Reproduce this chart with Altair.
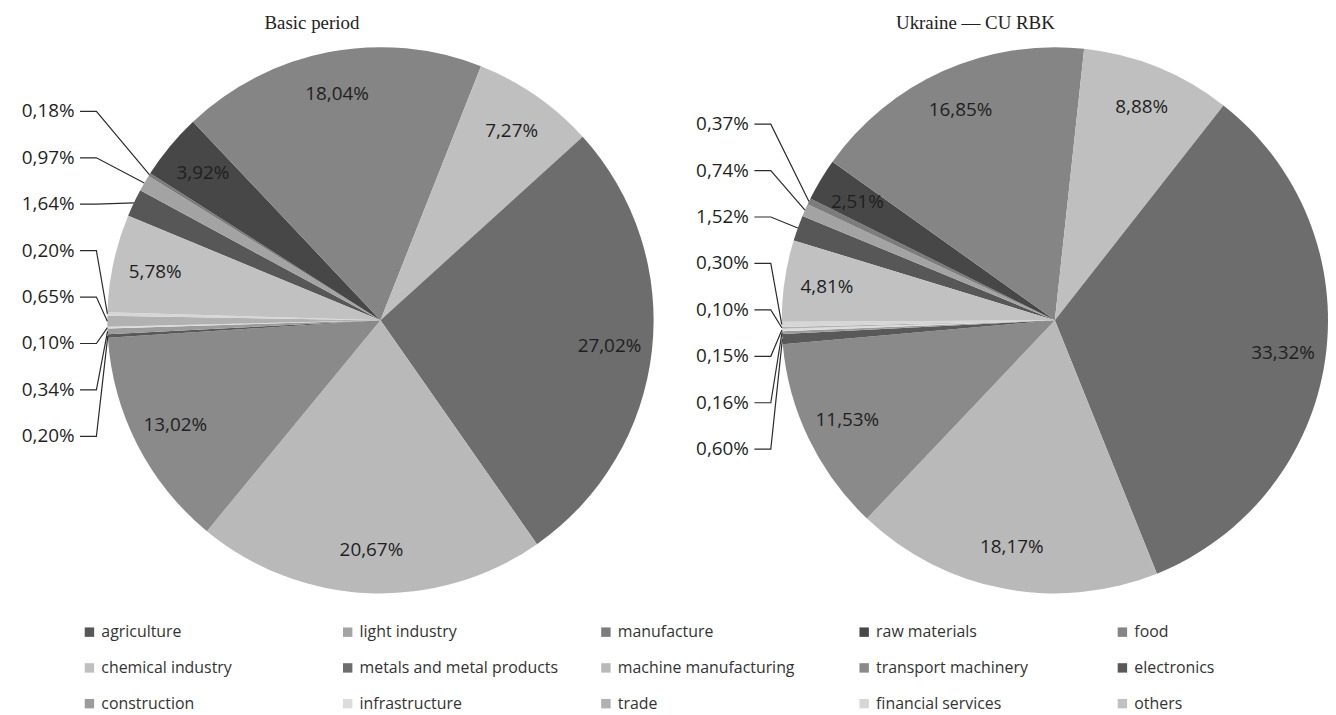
import math
import altair as alt
import pandas as pd

# ---------------- data ----------------
categories = [
    "agriculture", "light industry", "manufacture", "raw materials", "food",
    "chemical industry", "metals and metal products", "machine manufacturing",
    "transport machinery", "electronics", "construction", "infrastructure",
    "trade", "financial services", "others",
]
basic_values = [1.64, 0.97, 0.18, 3.92, 18.04, 7.27, 27.02, 20.67, 13.02,
                0.20, 0.34, 0.10, 0.65, 0.20, 5.78]
ukraine_values = [1.52, 0.74, 0.37, 2.51, 16.85, 8.88, 33.32, 18.17, 11.53,
                  0.60, 0.16, 0.15, 0.10, 0.30, 4.81]
panel_titles = ["Basic period", "Ukraine — CU RBK"]

colors = ["#575757", "#a3a3a3", "#7c7c7c", "#474747", "#858585",
          "#bfbfbf", "#6d6d6d", "#b9b9b9", "#8a8a8a", "#595959",
          "#9c9c9c", "#dcdcdc", "#b1b1b1", "#d6d6d6", "#c1c1c1"]

# ---------------- layout constants ----------------
R = 275          # pie radius, px
W, H = 660, 572  # panel plot size
CY = 279         # pie centre y inside panel
SMALL = 2.0      # slices below this get outside labels
GAP = 0.17       # min vertical gap between outside labels (radius units)
LABEL_X = -1.12  # right end of outside labels (radius units)
LABEL_FONT = "Open Sans"


def fmt(v):
    return f"{v:.2f}".replace(".", ",") + "%"


def spread(ys, gap):
    order = sorted(range(len(ys)), key=lambda i: ys[i])
    groups = []
    for i in order:
        groups.append([[i], ys[i]])
        while len(groups) > 1:
            g1, g2 = groups[-2], groups[-1]
            top1 = g1[1] + (len(g1[0]) - 1) * gap / 2
            bot2 = g2[1] - (len(g2[0]) - 1) * gap / 2
            if bot2 - top1 < gap:
                members = g1[0] + g2[0]
                c = sum(ys[m] for m in members) / len(members)
                groups[-2:] = [[members, c]]
            else:
                break
    out = [0.0] * len(ys)
    for members, c in groups:
        n = len(members)
        for k, m in enumerate(members):
            out[m] = c + (k - (n - 1) / 2) * gap
    return out


def panel(values, title, start_deg, cx, tdx):
    start = math.radians(start_deg)
    total = sum(values)
    xs = alt.Scale(domain=[-cx / R, (W - cx) / R], nice=False, zero=False)
    ys = alt.Scale(domain=[-(H - CY) / R, CY / R], nice=False, zero=False)
    tscale = alt.Scale(range=[start, start + 2 * math.pi])

    df = pd.DataFrame({
        "category": categories,
        "value": values,
        "idx": list(range(len(values))),
        "inner": [fmt(v) if v >= SMALL else "" for v in values],
    })

    mids, cum = [], 0.0
    for v in values:
        mids.append(start + 2 * math.pi * (cum + v / 2) / total)
        cum += v
    small = [i for i, v in enumerate(values) if v < SMALL]
    pos = spread([math.cos(mids[i]) for i in small], GAP)
    lab_rows, line_rows = [], []
    for k, i in enumerate(small):
        y = pos[k]
        lab_rows.append({"x": LABEL_X, "y": y, "text": fmt(values[i])})
        pts = [(LABEL_X + 0.02, y), (LABEL_X + 0.08, y),
               (math.sin(mids[i]), math.cos(mids[i]))]
        for j, (px, py) in enumerate(pts):
            line_rows.append({"id": i, "o": j, "x": px, "y": py})
    labs = pd.DataFrame(lab_rows)
    lines = pd.DataFrame(line_rows)

    color = alt.Color(
        "category:N",
        scale=alt.Scale(domain=categories, range=colors),
        legend=alt.Legend(
            orient="none", legendX=74, legendY=585, columns=5, title=None,
            direction="horizontal",
            symbolType="square", symbolSize=90, symbolStrokeWidth=0,
            labelFont=LABEL_FONT, labelFontSize=16, labelColor="#333333",
            labelLimit=400, labelOffset=4, rowPadding=20, columnPadding=40,
            gridAlign="all",
        ),
    )
    theta = alt.Theta("value:Q", stack=True, scale=tscale)

    arcs = alt.Chart(df).mark_arc(outerRadius=R, strokeWidth=0).encode(
        theta=theta, color=color, order=alt.Order("idx:Q"),
        x=alt.value(cx), y=alt.value(CY),
    )
    inner = alt.Chart(df).mark_text(
        radius=232, font=LABEL_FONT, fontSize=19, color="#1f1f1f"
    ).encode(
        theta=theta, order=alt.Order("idx:Q"), text="inner:N",
        x=alt.value(cx), y=alt.value(CY),
    )
    leader = alt.Chart(lines).mark_line(color="#2b2b2b", strokeWidth=1.2).encode(
        x=alt.X("x:Q", scale=xs, axis=None),
        y=alt.Y("y:Q", scale=ys, axis=None),
        detail="id:N", order="o:Q",
    )
    outer = alt.Chart(labs).mark_text(
        align="right", baseline="middle", font=LABEL_FONT, fontSize=19,
        color="#1f1f1f",
    ).encode(
        x=alt.X("x:Q", scale=xs, axis=None),
        y=alt.Y("y:Q", scale=ys, axis=None),
        text="text:N",
    )
    return alt.layer(arcs, leader, outer, inner).properties(
        width=W, height=H,
        title=alt.TitleParams(
            title, font="Liberation Serif", fontSize=19, fontWeight="normal",
            color="#222222", dx=tdx, offset=10, anchor="middle",
        ),
    )


left = panel(basic_values, panel_titles[0], -67.5, 375, -24)
right = panel(ukraine_values, panel_titles[1], -73, 394, -16)

chart = alt.hconcat(left, right, spacing=0).properties(
    padding={"left": 0, "top": 4, "right": 0, "bottom": 0},
    background="white",
).configure_view(stroke=None)

chart.save("out.html", embed_options={"renderer": "svg", "actions": False})
